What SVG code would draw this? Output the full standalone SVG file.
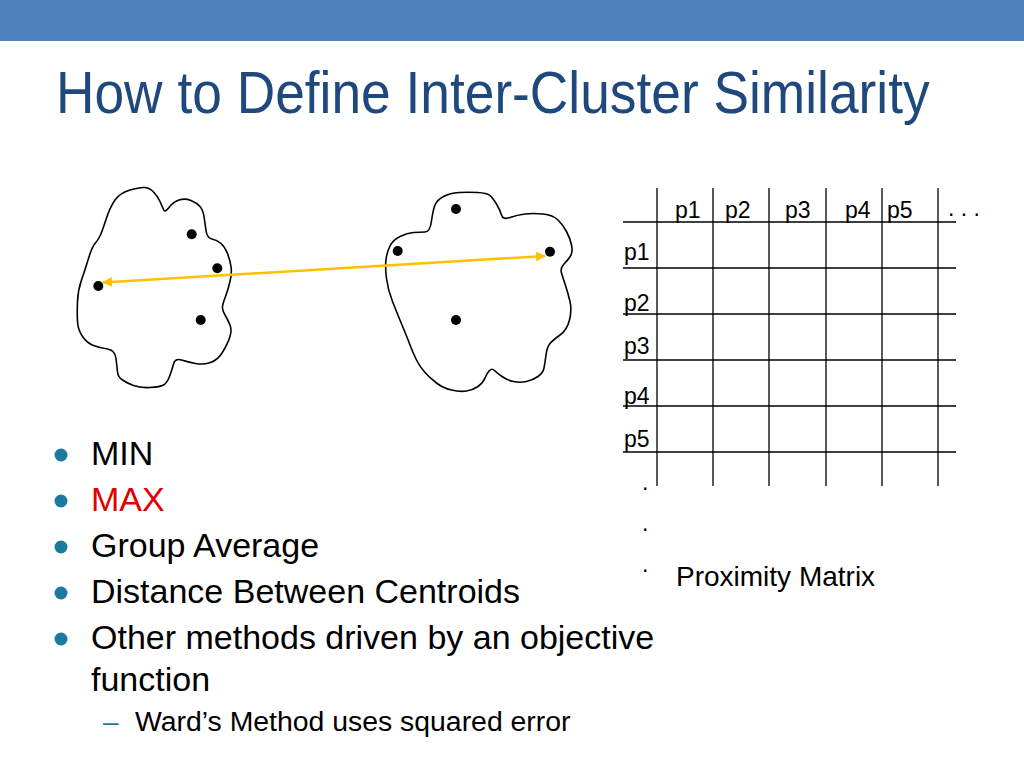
<svg xmlns="http://www.w3.org/2000/svg" width="1024" height="768" viewBox="0 0 1024 768">
<style>
text{font-family:"Liberation Sans",Arial,sans-serif}
.cloud{fill:none;stroke:#000;stroke-width:1.6;stroke-linejoin:round}
.pt{fill:#000}
.grid line{stroke:#000;stroke-width:1.3}
.lbl{font-size:23px;fill:#000}
.bul{font-size:34px;fill:#000}
.dot{fill:#1A7AA0}
</style>
<defs>
<marker id="ah" viewBox="0 0 10 10" refX="9" refY="5" markerWidth="4" markerHeight="4" orient="auto-start-reverse">
<path d="M0,0 L10,5 L0,10 z" fill="#FFC000"/>
</marker>
</defs>
<rect x="0" y="0" width="1024" height="41" fill="#4F81BB"/>
<text transform="translate(56,113) scale(1,1.1)" font-size="53.3" fill="#1F497D">How to Define Inter-Cluster Similarity</text>

<g id="cluster1">
<path class="cloud" d="M115,200 Q120,193 130,190 Q140,187 145,187.5 Q150,188 154,192.5 Q158,197 160,201.5 Q162,206 163.5,209.5 Q165,213 169,207.5 Q173,202 179,200 Q185,198 191,200.5 Q197,203 200,206.5 Q203,210 204,216.5 Q205,223 206,230.5 Q207,238 212,239 Q217,240 221,243.5 Q225,247 227.5,253.5 Q230,260 231,266.5 Q232,273 230,281.5 Q228,290 225.5,296.5 Q223,303 222.5,306.5 Q222,310 225,315 Q228,320 230,325 Q232,330 230,336.5 Q228,343 223,351.5 Q218,360 210.5,362.5 Q203,365 195.5,363.5 Q188,362 181.5,360 Q175,358 173.5,364 Q172,370 169.5,376.5 Q167,383 163.5,385 Q160,387 150,387.5 Q140,388 133.5,385.5 Q127,383 122.5,380 Q118,377 117.5,372 Q117,367 116,358.5 Q115,350 107.5,349 Q100,348 93.5,345.5 Q87,343 82.5,336.5 Q78,330 77.5,321.5 Q77,313 77.5,301.5 Q78,290 81.5,280 Q85,270 88.5,258.5 Q92,247 95,243.5 Q98,240 100,236 Q102,232 106,219.5 Q110,207 115,200 Z"/>
<circle class="pt" cx="191.7" cy="234.3" r="5"/>
<circle class="pt" cx="217.3" cy="268.3" r="5"/>
<circle class="pt" cx="98.3" cy="286" r="5"/>
<circle class="pt" cx="200.7" cy="320" r="5"/>
</g>

<g id="cluster2">
<path class="cloud" d="M425,232 Q430,232 431.5,221 Q433,210 435,205 Q437,200 443.5,196.5 Q450,193 459,192.5 Q468,192 477.5,192.5 Q487,193 490,195.5 Q493,198 496.5,204 Q500,210 501.5,215 Q503,220 510,217.5 Q517,215 525,214 Q533,213 543,214 Q553,215 558,220 Q563,225 566.5,231.5 Q570,238 571.5,245 Q573,252 570.5,256 Q568,260 564,264 Q560,268 561.5,273 Q563,278 565.5,285.5 Q568,293 570,301.5 Q572,310 569.5,320 Q567,330 560,335 Q553,340 550,343.5 Q547,347 546,355 Q545,363 544,368 Q543,373 538,376.5 Q533,380 526.5,381.5 Q520,383 513.5,381.5 Q507,380 502,376.5 Q497,373 494.5,370.5 Q492,368 489.5,370.5 Q487,373 485,378 Q483,383 478,386.5 Q473,390 466.5,391 Q460,392 451.5,390 Q443,388 436.5,383 Q430,378 425,372.5 Q420,367 416.5,360 Q413,353 410,345 Q407,337 402,325 Q397,313 392.5,301.5 Q388,290 386.5,278.5 Q385,267 386,259.5 Q387,252 390,246 Q393,240 400,236.5 Q407,233 413.5,232.5 Q420,232 425,232 Z"/>
<circle class="pt" cx="456" cy="209" r="5"/>
<circle class="pt" cx="397.7" cy="251" r="5"/>
<circle class="pt" cx="550" cy="251.7" r="5"/>
<circle class="pt" cx="456" cy="320" r="5"/>
</g>

<g id="connectors">
<line x1="103" y1="282.5" x2="545" y2="256" stroke="#FFC000" stroke-width="2.5" marker-start="url(#ah)" marker-end="url(#ah)"/>
</g>

<g id="matrix">
<g class="grid">
<line x1="657" y1="188" x2="657" y2="486"/>
<line x1="713" y1="188" x2="713" y2="486"/>
<line x1="769" y1="188" x2="769" y2="486"/>
<line x1="826" y1="188" x2="826" y2="486"/>
<line x1="882" y1="188" x2="882" y2="486"/>
<line x1="938" y1="188" x2="938" y2="486"/>
<line x1="623" y1="222" x2="956" y2="222"/>
<line x1="623" y1="268" x2="956" y2="268"/>
<line x1="623" y1="314" x2="956" y2="314"/>
<line x1="623" y1="360" x2="956" y2="360"/>
<line x1="623" y1="406" x2="956" y2="406"/>
<line x1="623" y1="452" x2="956" y2="452"/>
</g>
<text class="lbl" x="675" y="218">p1</text>
<text class="lbl" x="725" y="218">p2</text>
<text class="lbl" x="785" y="218">p3</text>
<text class="lbl" x="845" y="218">p4</text>
<text class="lbl" x="887" y="218">p5</text>
<text class="lbl" x="948" y="216" font-size="18">. . .</text>
<text class="lbl" x="624" y="260">p1</text>
<text class="lbl" x="624" y="311">p2</text>
<text class="lbl" x="624" y="354">p3</text>
<text class="lbl" x="624" y="404">p4</text>
<text class="lbl" x="624" y="447">p5</text>
<text class="lbl" x="642" y="490" font-size="18">.</text>
<text class="lbl" x="642" y="531" font-size="18">.</text>
<text class="lbl" x="642" y="572" font-size="18">.</text>
<text x="676" y="586" font-size="28" fill="#000">Proximity Matrix</text>
</g>

<g id="bullets">
<circle class="dot" cx="61" cy="455" r="6.5"/>
<circle class="dot" cx="61" cy="501" r="6.5"/>
<circle class="dot" cx="61" cy="547" r="6.5"/>
<circle class="dot" cx="61" cy="593" r="6.5"/>
<circle class="dot" cx="61" cy="639" r="6.5"/>
<text class="bul" x="91" y="465">MIN</text>
<text class="bul" x="91" y="511" style="fill:#E00000">MAX</text>
<text class="bul" x="91" y="557">Group Average</text>
<text class="bul" x="91" y="603">Distance Between Centroids</text>
<text class="bul" x="91" y="649">Other methods driven by an objective</text>
<text class="bul" x="91" y="691">function</text>
<text x="103" y="731" font-size="28" fill="#1A7AA0">–</text>
<text x="135" y="731" font-size="28.4" fill="#000">Ward’s Method uses squared error</text>
</g>
</svg>
